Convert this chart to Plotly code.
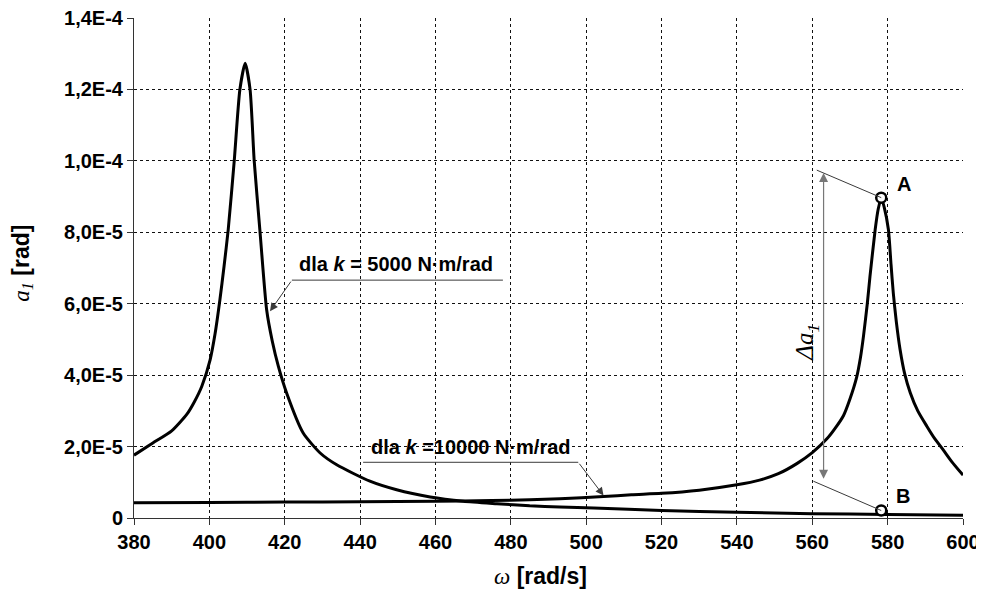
import plotly.graph_objects as go

# ---------------- data ----------------
omega_k5000 = [380, 385, 390, 394, 396, 398, 400.2, 401.5, 402.8, 403.9, 405, 406.6, 408.1, 409.5,
               410.8, 411.9, 413.4, 415.2, 416.7, 418.3, 420.5, 424.9, 429.4, 433.8, 442.6, 449.7,
               458.6, 467.4, 476.3, 485, 493, 502, 520, 540, 560, 580, 600]
a1_k5000 = [17.6e-6, 21.0e-6, 24.4e-6, 29.0e-6, 32.5e-6, 36.9e-6, 44.3e-6, 51.5e-6, 61.1e-6,
            70.5e-6, 80.7e-6, 100e-6, 120e-6, 127.3e-6, 120e-6, 100e-6, 80.7e-6, 58.3e-6,
            49.5e-6, 42.5e-6, 35.0e-6, 23.8e-6, 18.2e-6, 14.9e-6, 10.3e-6, 7.9e-6, 5.9e-6,
            4.7e-6, 4.0e-6, 3.4e-6, 3.1e-6, 2.8e-6, 2.1e-6, 1.6e-6, 1.2e-6, 1.0e-6, 0.8e-6]

omega_k10000 = [380, 400, 420, 440, 460, 475, 485, 493, 504.6, 512, 520, 530, 540, 546, 551,
                556, 560, 564, 566, 568.3, 570, 571.8, 572.8, 573.6, 574.6, 575.3, 576.7, 577.5,
                578.3, 579.1, 580.2, 580.9, 581.5, 582.3, 583.3, 584.5, 586, 588, 590.4, 592.5,
                594.8, 597, 600]
a1_k10000 = [4.3e-6, 4.35e-6, 4.45e-6, 4.55e-6, 4.7e-6, 4.9e-6, 5.1e-6, 5.4e-6, 6.0e-6, 6.5e-6,
             6.9e-6, 7.8e-6, 9.3e-6, 10.6e-6, 12.4e-6, 15.3e-6, 18.3e-6, 22.3e-6, 25.0e-6,
             28.7e-6, 33.3e-6, 39.5e-6, 45.0e-6, 51.0e-6, 60.0e-6, 67.5e-6, 80.8e-6, 86.5e-6,
             89.7e-6, 87.0e-6, 80.8e-6, 71.0e-6, 63.0e-6, 55.0e-6, 47.2e-6, 40.5e-6, 35.1e-6,
             30.0e-6, 25.7e-6, 22.2e-6, 19.0e-6, 15.8e-6, 12.0e-6]

point_A = (578.3, 89.7e-6)
point_B = (578.3, 2.1e-6)

x_ticks = [380, 400, 420, 440, 460, 480, 500, 520, 540, 560, 580, 600]
y_tickvals = [0, 2e-5, 4e-5, 6e-5, 8e-5, 1e-4, 1.2e-4, 1.4e-4]
y_ticktext = ["0", "2,0E-5", "4,0E-5", "6,0E-5", "8,0E-5", "1,0E-4", "1,2E-4", "1,4E-4"]

label_k5000 = "dla <i>k</i> = 5000 N·m/rad"
label_k10000 = "dla <i>k</i> =10000 N·m/rad"

# ---------------- figure ----------------
SANS = "Liberation Sans, Arial, sans-serif"
SERIF = "Liberation Serif, Times New Roman, serif"
GRAY = "#3a3a3a"

fig = go.Figure()
fig.add_trace(go.Scatter(x=omega_k5000, y=a1_k5000, mode="lines",
                         line=dict(color="black", width=3, shape="spline", smoothing=0.6),
                         showlegend=False))
fig.add_trace(go.Scatter(x=omega_k10000, y=a1_k10000, mode="lines",
                         line=dict(color="black", width=3, shape="spline", smoothing=0.6),
                         showlegend=False))
fig.add_trace(go.Scatter(x=[point_A[0], point_B[0]], y=[point_A[1], point_B[1]], mode="markers",
                         marker=dict(symbol="circle", size=10, color="white",
                                     line=dict(color="black", width=2.5)),
                         showlegend=False))

axis_common = dict(
    showgrid=True, gridcolor="#111", gridwidth=1, griddash="3px,3px",
    zeroline=False, showline=True, linecolor="#333", linewidth=1,
    ticks="outside", ticklen=6, tickcolor="#333", automargin=False,
    ticklabeloverflow="allow",
    tickfont=dict(family=SANS, size=20, color="black", weight="bold"),
)

fig.update_xaxes(range=[380, 600], tickvals=x_ticks, **axis_common)
fig.update_yaxes(range=[0, 1.4e-4], tickvals=y_tickvals, ticktext=y_ticktext, **axis_common)

shapes = [
    # underline of label k=5000
    dict(type="line", x0=421.9, y0=66.6e-6, x1=477.9, y1=66.6e-6, line=dict(color=GRAY, width=1)),
    # underline of label k=10000
    dict(type="line", x0=440.8, y0=15.6e-6, x1=497.9, y1=15.6e-6, line=dict(color=GRAY, width=1)),
    # A and B leader lines
    dict(type="line", x0=561.2, y0=97.4e-6, x1=point_A[0], y1=point_A[1], line=dict(color=GRAY, width=1)),
    dict(type="line", x0=560.3, y0=10.3e-6, x1=point_B[0], y1=point_B[1], line=dict(color=GRAY, width=1)),
]

annotations = [
    dict(x=449.4, y=71.2e-6, text=label_k5000, showarrow=False, xanchor="center", yanchor="middle",
         font=dict(family=SANS, size=20, color="black", weight="bold")),
    dict(x=469.3, y=19.9e-6, text=label_k10000, showarrow=False, xanchor="center", yanchor="middle",
         font=dict(family=SANS, size=20, color="black", weight="bold")),
    # leader arrows
    dict(x=416.1, y=57.9e-6, ax=421.9, ay=66.6e-6, axref="x", ayref="y", text="", showarrow=True,
         arrowhead=2, arrowsize=1.6, arrowwidth=1, arrowcolor=GRAY),
    dict(x=504.6, y=6.3e-6, ax=497.9, ay=15.6e-6, axref="x", ayref="y", text="", showarrow=True,
         arrowhead=2, arrowsize=1.6, arrowwidth=1, arrowcolor=GRAY),
    # delta arrow (double headed)
    dict(x=563.0, y=11.0e-6, ax=563.0, ay=97.0e-6, axref="x", ayref="y", text="", showarrow=True,
         arrowhead=2, startarrowhead=2, arrowside="end+start", arrowsize=1.5, startarrowsize=1.5,
         arrowwidth=1.2, arrowcolor="#777"),
    dict(x=558.6, y=49.1e-6, text="<i>Δa</i><sub><i>1</i></sub>", showarrow=False, textangle=-90,
         xanchor="center", yanchor="middle", font=dict(family=SERIF, size=25, color="black")),
    dict(x=584.4, y=93.4e-6, text="A", showarrow=False, xanchor="center", yanchor="middle",
         font=dict(family=SANS, size=20, color="black", weight="bold")),
    dict(x=584.0, y=6.3e-6, text="B", showarrow=False, xanchor="center", yanchor="middle",
         font=dict(family=SANS, size=20, color="black", weight="bold")),
    # axis titles
    dict(xref="paper", yref="paper", x=0.49, y=-0.116, showarrow=False, xanchor="center", yanchor="middle",
         text="<span style='font-family:Liberation Serif'><i>ω</i></span> <b>[rad/s]</b>",
         font=dict(family=SANS, size=23, color="black")),
    dict(xref="paper", yref="paper", x=-0.1355, y=0.51, showarrow=False, xanchor="center", yanchor="middle",
         textangle=-90,
         text="<span style='font-family:Liberation Serif'><i>a</i><sub><i>1</i></sub></span> <b>[rad]</b>",
         font=dict(family=SANS, size=23, color="black")),
]

# page body has an 8px margin, so the figure is shrunk by 8px and margins offset accordingly
fig.update_layout(
    width=976, height=581,
    margin=dict(l=126, r=21, t=10, b=71, autoexpand=False),
    paper_bgcolor="white", plot_bgcolor="white",
    shapes=shapes, annotations=annotations,
)

fig.write_html("out.html")
